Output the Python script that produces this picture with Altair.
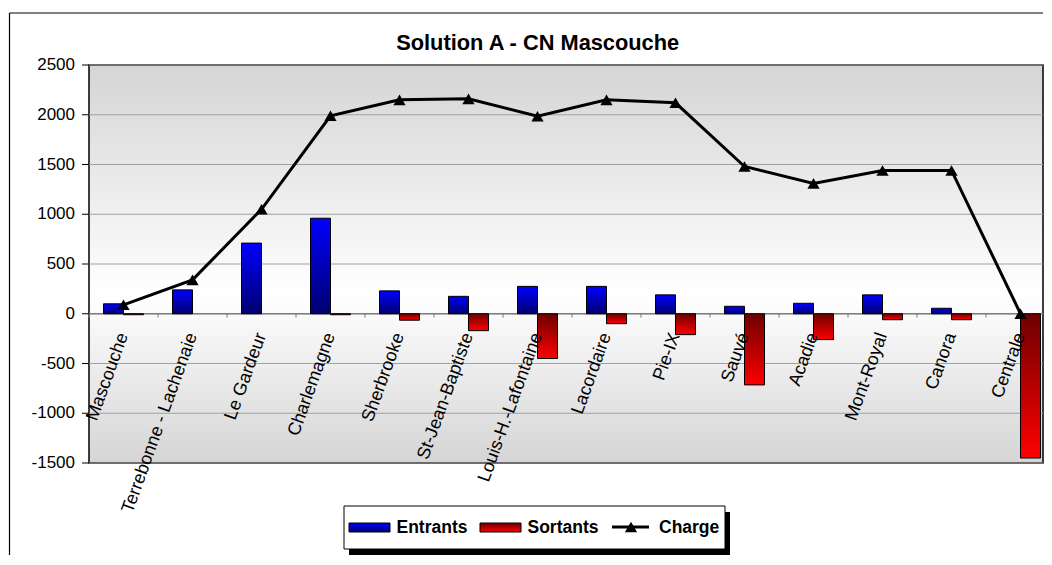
import altair as alt
import pandas as pd

# ---------------- data ----------------
TITLE = "Solution A - CN Mascouche"
CATS = ["Mascouche", "Terrebonne - Lachenaie", "Le Gardeur", "Charlemagne",
        "Sherbrooke", "St-Jean-Baptiste", "Louis-H.-Lafontaine", "Lacordaire",
        "Pie-IX", "Sauvé", "Acadie", "Mont-Royal", "Canora", "Centrale"]
ENTRANTS = [100, 240, 710, 960, 230, 175, 275, 275, 190, 75, 105, 190, 55, 0]
SORTANTS = [-10, 0, 0, -10, -65, -170, -450, -100, -210, -715, -260, -60, -60, -1450]
CHARGE = [90, 340, 1050, 1990, 2150, 2160, 1985, 2150, 2120, 1480, 1310, 1440, 1440, 0]
SERIES = ["Entrants", "Sortants", "Charge"]
Y_TICKS = [-1500, -1000, -500, 0, 500, 1000, 1500, 2000, 2500]
Y_LABELS = [str(v) for v in Y_TICKS]

# ---------------- layout / style ----------------
FONT = "Liberation Sans, Arial, sans-serif"
W, H = 954, 398          # visible plot area (the category range runs on past the right edge)
XRANGE = 966             # 14 categories x ~69 px
YMIN, YMAX = -1500, 2500
STEP = XRANGE / len(CATS)
BAND = 40

blue_grad = alt.Gradient(gradient="linear", x1=0, y1=0, x2=0, y2=1,
                         stops=[alt.GradientStop(color="#0000ff", offset=0),
                                alt.GradientStop(color="#00006e", offset=1)])
red_grad = alt.Gradient(gradient="linear", x1=0, y1=0, x2=0, y2=1,
                        stops=[alt.GradientStop(color="#6e0000", offset=0),
                               alt.GradientStop(color="#ff0000", offset=1)])
bg_grad = alt.Gradient(gradient="linear", x1=0, y1=0, x2=0, y2=1,
                       stops=[alt.GradientStop(color="#d5d5d5", offset=0),
                              alt.GradientStop(color="#ffffff", offset=0.58),
                              alt.GradientStop(color="#d5d5d5", offset=1)])

p_inner = 1 - BAND / STEP
xscale = alt.Scale(domain=CATS, range=[0, XRANGE], paddingInner=p_inner, paddingOuter=p_inner / 2)
yscale = alt.Scale(domain=[YMIN, YMAX], nice=False, zero=False)
offscale = alt.Scale(domain=SERIES[:2], paddingInner=0, paddingOuter=0)

one = pd.DataFrame({"k": [0]})

# ---------------- tables ----------------
df_e = pd.DataFrame({"cat": CATS, "series": SERIES[0], "value": ENTRANTS})
df_s = pd.DataFrame({"cat": CATS, "series": SERIES[1], "value": SORTANTS})
df_c = pd.DataFrame({"cat": CATS, "charge": CHARGE})
df_g = pd.DataFrame({"v": Y_TICKS, "lbl": Y_LABELS})
df_l = pd.DataFrame({"cat": CATS})

# ---------------- layers ----------------
bg = alt.Chart(one).mark_rect(fill=bg_grad, stroke="black", strokeWidth=1.5).encode(
    x=alt.value(0), x2=alt.value(W), y=alt.value(0), y2=alt.value(H))

grid = alt.Chart(df_g).mark_rule(color="#a0a0a0", strokeWidth=1).encode(
    y=alt.Y("v:Q", scale=yscale, axis=None), x=alt.value(0), x2=alt.value(W))

# y axis: ticks and labels through the y scale
y_ticks = alt.Chart(df_g).mark_rule(color="black", strokeWidth=1).encode(
    y=alt.Y("v:Q", scale=yscale, axis=None), x=alt.value(-7), x2=alt.value(0))
y_labels = alt.Chart(df_g).mark_text(align="right", baseline="middle", font=FONT,
                                     fontSize=17, color="black").encode(
    y=alt.Y("v:Q", scale=yscale, axis=None), x=alt.value(-14), text="lbl:N")

# category axis at zero: line + small ticks between categories
zero_line = alt.Chart(one).mark_rule(color="#7f7f7f", strokeWidth=1.5).encode(
    y=alt.Y(datum=0, scale=yscale, axis=None), x=alt.value(0), x2=alt.value(W))
x_ticks = alt.Chart(df_l).mark_rule(color="#7f7f7f", strokeWidth=1,
                                    xOffset=-(STEP - BAND) / 2).encode(
    x=alt.X("cat:N", scale=xscale, axis=None, bandPosition=0),
    y=alt.Y(datum=0, scale=yscale, axis=None), y2=alt.Y2(datum=-40))


def bars(df, grad):
    return alt.Chart(df).transform_filter("datum.value != 0").mark_bar(
        fill=grad, stroke="black", strokeWidth=1).encode(
        x=alt.X("cat:N", scale=xscale, axis=None),
        xOffset=alt.XOffset("series:N", scale=offscale),
        y=alt.Y("value:Q", scale=yscale, axis=None))


bars_e = bars(df_e, blue_grad)
bars_s = bars(df_s, red_grad)

line = alt.Chart(df_c).mark_line(color="black", strokeWidth=3).encode(
    x=alt.X("cat:N", scale=xscale, axis=None),
    y=alt.Y("charge:Q", scale=yscale, axis=None))
pts = alt.Chart(df_c).mark_point(shape="triangle-up", filled=True, color="black",
                                 opacity=1, size=150).encode(
    x=alt.X("cat:N", scale=xscale, axis=None),
    y=alt.Y("charge:Q", scale=yscale, axis=None))

labels = alt.Chart(df_l).mark_text(angle=290, align="right", baseline="middle",
                                   font=FONT, fontSize=18, color="black").encode(
    x=alt.X("cat:N", scale=xscale, axis=None),
    y=alt.Y(datum=-200, scale=yscale, axis=None),
    text="cat:N")

title = alt.Chart(one).mark_text(text=TITLE, font=FONT, fontSize=21.8, fontWeight="bold",
                                 align="center", baseline="alphabetic", color="black").encode(
    x=alt.value(448.7), y=alt.value(-15))

# outer chart frame (+ an invisible white spacer that fixes the top margin)
spacer = alt.Chart(one).mark_rule(color="white", strokeWidth=1).encode(
    x=alt.value(0), x2=alt.value(2), y=alt.value(-56.5))
frame_top = alt.Chart(one).mark_rule(color="black", strokeWidth=1.2).encode(
    x=alt.value(-79.5), x2=alt.value(W), y=alt.value(-52))
frame_left = alt.Chart(one).mark_rule(color="black", strokeWidth=1.2).encode(
    x=alt.value(-79.5), y=alt.value(-52), y2=alt.value(490))

# legend
LX, LY, RX, BY = 255, 441, 636, 484
leg_shadow = alt.Chart(one).mark_rect(fill="black").encode(
    x=alt.value(LX + 5), x2=alt.value(RX + 5), y=alt.value(LY + 6), y2=alt.value(BY + 6))
leg_box = alt.Chart(one).mark_rect(fill="white", stroke="black", strokeWidth=1).encode(
    x=alt.value(LX), x2=alt.value(RX), y=alt.value(LY), y2=alt.value(BY))
sw_e = alt.Chart(one).mark_rect(fill=blue_grad, stroke="black", strokeWidth=1).encode(
    x=alt.value(260), x2=alt.value(301), y=alt.value(458), y2=alt.value(467))
sw_s = alt.Chart(one).mark_rect(fill=red_grad, stroke="black", strokeWidth=1).encode(
    x=alt.value(391), x2=alt.value(432), y=alt.value(458), y2=alt.value(467))
sw_c = alt.Chart(one).mark_rule(color="black", strokeWidth=3).encode(
    x=alt.value(523), x2=alt.value(560), y=alt.value(462))
sw_cp = alt.Chart(one).mark_point(shape="triangle-up", filled=True, color="black",
                                  opacity=1, size=150).encode(x=alt.value(542), y=alt.value(462))


def leg_text(txt, x):
    return alt.Chart(one).mark_text(text=txt, font=FONT, fontSize=17.5, fontWeight="bold",
                                    align="left", baseline="alphabetic", color="black").encode(
        x=alt.value(x), y=alt.value(467.5))


lt_e = leg_text(SERIES[0], 307.5)
lt_s = leg_text(SERIES[1], 438.5)
lt_c = leg_text(SERIES[2], 570)

chart = alt.layer(
    bg, grid, zero_line, bars_e, bars_s, x_ticks, line, pts, labels, y_ticks, y_labels,
    title, spacer, frame_top, frame_left,
    leg_shadow, leg_box, sw_e, sw_s, sw_c, sw_cp, lt_e, lt_s, lt_c
).properties(
    width=W, height=H,
    padding=0,
    background="white",
).configure_view(stroke=None)

chart.save("out.html", embed_options={"renderer": "svg", "actions": False})
